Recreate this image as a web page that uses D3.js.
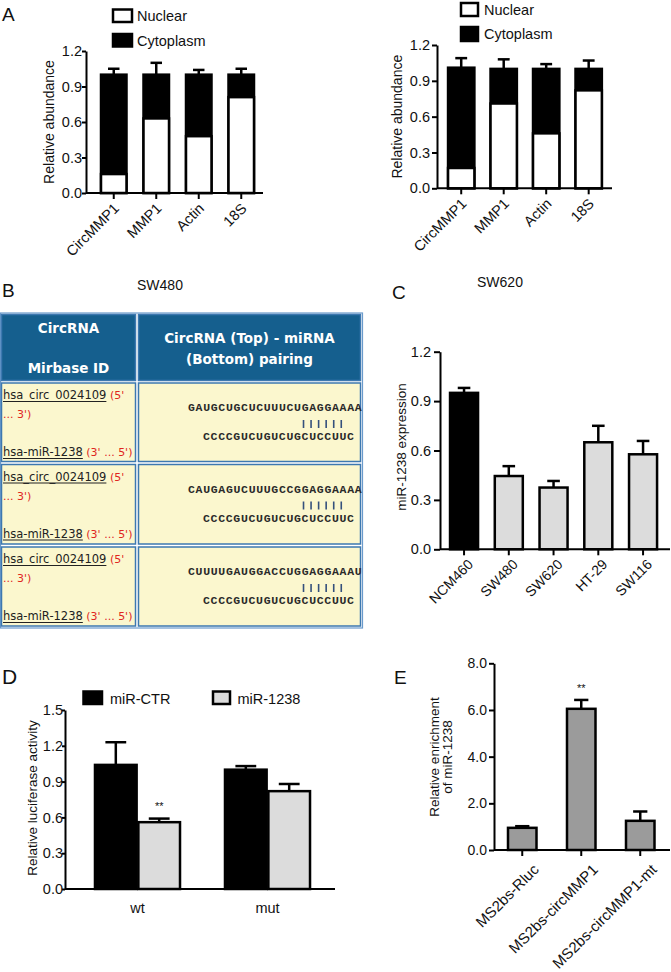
<!DOCTYPE html>
<html><head><meta charset="utf-8">
<script src="https://cdn.jsdelivr.net/npm/d3@7"></script>
<style>body{margin:0;background:#fff} svg{display:block}</style>
</head><body>
<svg id="c" width="671" height="972"></svg>
<script>
// ---------- DATA ----------
const fractionCategories = ["CircMMP1", "MMP1", "Actin", "18S"];
const fractionTicks = [0, 0.3, 0.6, 0.9, 1.2];
const sw480Nuclear = [0.16, 0.63, 0.48, 0.81];
const sw480Total   = [1.00, 1.00, 1.00, 1.00];
const sw480ErrTop  = [1.05, 1.10, 1.04, 1.05];
const sw620Nuclear = [0.17, 0.71, 0.46, 0.82];
const sw620Total   = [1.01, 1.00, 1.00, 1.00];
const sw620ErrTop  = [1.09, 1.08, 1.04, 1.07];

const cellLines = ["NCM460", "SW480", "SW620", "HT-29", "SW116"];
const exprTicks = [0, 0.3, 0.6, 0.9, 1.2];
const mirExpr       = [0.95, 0.445, 0.375, 0.65, 0.577];
const mirExprErrTop = [0.98, 0.505, 0.415, 0.75, 0.658];

const lucGroups = ["wt", "mut"];
const lucSeries = ["miR-CTR", "miR-1238"];
const lucTicks = [0, 0.3, 0.6, 0.9, 1.2, 1.5];
const lucCTR       = [1.04, 1.00];
const lucCTRErrTop = [1.23, 1.03];
const luc1238       = [0.56, 0.82];
const luc1238ErrTop = [0.59, 0.88];

const pulldownCats = ["MS2bs-Rluc", "MS2bs-circMMP1", "MS2bs-circMMP1-mt"];
const pulldownTicks = [0, 2, 4, 6, 8];
const pulldownVals   = [0.95, 6.05, 1.25];
const pulldownErrTop = [1.02, 6.43, 1.65];

const tableHeaders = [["CircRNA", "Mirbase ID"], ["CircRNA (Top) - miRNA", "(Bottom) pairing"]];
const circIds = ["hsa_circ_0024109", "hsa_circ_0024109", "hsa_circ_0024109"];
const mirIds  = ["hsa-miR-1238", "hsa-miR-1238", "hsa-miR-1238"];
const circSeqs = ["GAUGCUGCUCUUUCUGAGGAAAA", "CAUGAGUCUUUGCCGGAGGAAAA", "CUUUUGAUGGACCUGGAGGAAAU"];
const mirSeqs  = ["CCCCGUCUGUCUGCUCCUUC", "CCCCGUCUGUCUGCUCCUUC", "CCCCGUCUGUCUGCUCCUUC"];
const pairedIdx = [[15,16,17,18,19,20],[15,16,17,18,19,20],[15,16,17,18,19,20]];

// ---------- HELPERS ----------
const FONT = "'Liberation Sans', Arial, Helvetica, sans-serif";
const svg = d3.select("#c");
const f1 = d3.format(".1f");

function yAxis(y, ticks, x0, fs, ts, tp) {
  const ax = svg.append("g").attr("transform", `translate(${x0},0)`)
    .call(d3.axisLeft(y).tickValues(ticks).tickFormat(f1).tickSize(ts).tickSizeOuter(0).tickPadding(tp));
  ax.select(".domain").attr("stroke", "#000").attr("stroke-width", 2);
  ax.selectAll(".tick line").attr("stroke", "#000").attr("stroke-width", 2);
  ax.selectAll(".tick text").attr("font-size", fs).attr("font-family", FONT).attr("fill", "#111");
}
function xAxis(x, y0, xs, xe, o) {
  svg.append("line").attr("x1", xs).attr("x2", xe).attr("y1", y0).attr("y2", y0)
    .attr("stroke", "#000").attr("stroke-width", 2);
  const ax = svg.append("g").attr("transform", `translate(0,${y0})`)
    .call(d3.axisBottom(x).tickSize(o.tick ? 6 : 0).tickSizeOuter(0));
  ax.select(".domain").remove();
  ax.selectAll(".tick line").attr("stroke", "#000").attr("stroke-width", 2);
  const t = ax.selectAll(".tick text").attr("font-size", o.fs).attr("font-family", FONT).attr("fill", "#111");
  if (o.rotate) {
    t.attr("y", 0).attr("dy", "0.71em").attr("text-anchor", "end")
     .attr("transform", `translate(${o.dx},${o.dy}) rotate(-45)`);
  } else {
    t.attr("y", o.ly).attr("dy", 0);
  }
}
function errBar(cx, yTop, yErr, cap) {
  svg.append("line").attr("x1", cx).attr("x2", cx).attr("y1", yTop).attr("y2", yErr)
    .attr("stroke", "#000").attr("stroke-width", 2.5);
  svg.append("line").attr("x1", cx - cap / 2).attr("x2", cx + cap / 2).attr("y1", yErr).attr("y2", yErr)
    .attr("stroke", "#000").attr("stroke-width", 2.5);
}
function yTitle(lines, x, yc, fs, lh) {
  const t = svg.append("text").attr("transform", `translate(${x},${yc}) rotate(-90)`)
    .attr("text-anchor", "middle").attr("font-family", FONT).attr("font-size", fs).attr("fill", "#111");
  lines.forEach((l, i) => t.append("tspan").attr("x", 0).attr("dy", i === 0 ? 0 : lh).text(l));
}
function label(txt, x, y, fs, anchor) {
  svg.append("text").attr("x", x).attr("y", y).attr("font-family", FONT).attr("font-size", fs)
    .attr("fill", "#111").attr("text-anchor", anchor || "start").text(txt);
}
function legendBox(x, y, w, h, fill) {
  svg.append("rect").attr("x", x).attr("y", y).attr("width", w).attr("height", h)
    .attr("fill", fill).attr("stroke", "#000").attr("stroke-width", 2.5);
}

// ---------- PANEL A ----------
function stacked(cfg) {
  const x = d3.scaleBand().domain(fractionCategories).range(cfg.xr).padding(cfg.pad);
  const y = d3.scaleLinear().domain([0, 1.2]).range(cfg.yr);
  const bw = x.bandwidth();
  fractionCategories.forEach((c, i) => {
    errBar(x(c) + bw / 2, y(cfg.total[i]), y(cfg.err[i]), bw * 0.45);
  });
  svg.append("g").selectAll("rect.tot").data(fractionCategories).join("rect")
    .attr("x", d => x(d)).attr("width", bw)
    .attr("y", (d, i) => y(cfg.total[i])).attr("height", (d, i) => y(0) - y(cfg.total[i]))
    .attr("fill", "#000").attr("stroke", "#000").attr("stroke-width", 2.5);
  svg.append("g").selectAll("rect.nuc").data(fractionCategories).join("rect")
    .attr("x", d => x(d)).attr("width", bw)
    .attr("y", (d, i) => y(cfg.nuc[i])).attr("height", (d, i) => y(0) - y(cfg.nuc[i]))
    .attr("fill", "#fff").attr("stroke", "#000").attr("stroke-width", 2.5);
  yAxis(y, fractionTicks, cfg.ax, 14.5, cfg.ts, cfg.tp);
  xAxis(x, cfg.yr[0], cfg.ax, cfg.axEnd, {tick: true, rotate: true, fs: 14.5, dx: -1, dy: 9});
  yTitle(["Relative abundance"], cfg.titleX, (cfg.yr[0] + cfg.yr[1]) / 2, 14, 0);
}
stacked({xr: [84, 271], pad: 0.4, yr: [193, 51], ax: 86, axEnd: 263, ts: 4, tp: 0,
  nuc: sw480Nuclear, total: sw480Total, err: sw480ErrTop, titleX: 54});
stacked({xr: [431.9, 618], pad: 0.38, yr: [188.3, 45], ax: 437, axEnd: 612, ts: 5, tp: 2,
  nuc: sw620Nuclear, total: sw620Total, err: sw620ErrTop, titleX: 402});
// legends A
legendBox(113, 9.5, 19, 12.5, "#fff"); label("Nuclear", 137, 21, 14.5);
legendBox(113, 34, 19, 12.5, "#000"); label("Cytoplasm", 137, 46, 14.5);
legendBox(461, 3, 17, 13, "#fff"); label("Nuclear", 484, 15, 14.5);
legendBox(461, 27, 17, 14, "#000"); label("Cytoplasm", 484, 39, 14.5);
label("SW480", 160, 290, 14, "middle");
label("SW620", 500, 287, 14, "middle");

// panel letters
label("A", 2, 21, 19);
label("B", 2, 297, 19);
label("C", 392, 299, 19);
label("D", 2, 684, 21);
label("E", 394, 684, 19);

// ---------- PANEL B (table) ----------
(function table() {
  const TF = "'DejaVu Sans', Verdana, sans-serif";
  const border = "#3d78b0";
  const colX = [[1.5, 135.5], [138.5, 360.5]];
  const rowY = [[314.5, 380.5], [383, 461.5], [464.5, 544], [547, 626]];
  svg.append("rect").attr("x", 0.5).attr("y", 313).attr("width", 362).attr("height", 315)
    .attr("fill", "#fff").attr("stroke", "#6a9acb").attr("stroke-width", 1.2);
  rowY.forEach((r, ri) => colX.forEach((c, ci) => {
    svg.append("rect").attr("x", c[0]).attr("y", r[0]).attr("width", c[1] - c[0]).attr("height", r[1] - r[0])
      .attr("fill", ri === 0 ? "#155f8e" : "#fbf7ce").attr("stroke", border).attr("stroke-width", 1.5);
  }));
  const h1 = [[333, 373], [343, 364]];
  tableHeaders.forEach((lines, ci) => {
    const cx = (colX[ci][0] + colX[ci][1]) / 2;
    lines.forEach((l, li) => svg.append("text").attr("x", cx).attr("y", h1[ci][li])
      .attr("text-anchor", "middle").attr("font-family", TF).attr("font-weight", "bold")
      .attr("font-size", 13.5).attr("fill", "#fff").text(l));
  });
  function under(txt, x, y, extra, extraColor) {
    const t = svg.append("text").attr("x", x).attr("y", y).attr("font-family", TF)
      .attr("font-size", 11.5).attr("fill", "#222").text(txt);
    const w = t.node().getComputedTextLength();
    svg.append("line").attr("x1", x).attr("x2", x + w).attr("y1", y + 2.5).attr("y2", y + 2.5)
      .attr("stroke", "#222").attr("stroke-width", 1);
    if (extra) svg.append("text").attr("x", x + w + 3.5).attr("y", y).attr("font-family", TF)
      .attr("font-size", 11).attr("fill", extraColor).text(extra);
  }
  const cw = 7.55;
  circIds.forEach((id, i) => {
    const top = rowY[i + 1][0];
    under(id, 3, top + 16, "(5'", "#e0261f");
    svg.append("text").attr("x", 3).attr("y", top + 35).attr("font-family", TF)
      .attr("font-size", 11).attr("fill", "#e0261f").text("... 3')");
    under(mirIds[i], 3, top + 73, "(3' ... 5')", "#e0261f");
    const sx = 188, bx = 203;
    svg.append("text").attr("x", sx).attr("y", top + 28).attr("font-family", "'Liberation Mono', monospace")
      .attr("font-weight", "bold").attr("font-size", 11.5).attr("fill", "#2a2a2a")
      .attr("textLength", circSeqs[i].length * cw).attr("lengthAdjust", "spacing").text(circSeqs[i]);
    svg.append("text").attr("x", bx).attr("y", top + 57).attr("font-family", "'Liberation Mono', monospace")
      .attr("font-weight", "bold").attr("font-size", 11.5).attr("fill", "#2a2a2a")
      .attr("textLength", mirSeqs[i].length * cw).attr("lengthAdjust", "spacing").text(mirSeqs[i]);
    svg.append("g").selectAll("line").data(pairedIdx[i]).join("line")
      .attr("x1", d => sx + (d + 0.3) * cw).attr("x2", d => sx + (d + 0.3) * cw)
      .attr("y1", top + 37).attr("y2", top + 45)
      .attr("stroke", "#34507c").attr("stroke-width", 1.6);
  });
})();

// ---------- PANEL C ----------
(function () {
  const x = d3.scaleBand().domain(cellLines).range([433.3, 673.8]).padding(0.374);
  const y = d3.scaleLinear().domain([0, 1.2]).range([549.3, 351.7]);
  const bw = x.bandwidth();
  cellLines.forEach((c, i) => errBar(x(c) + bw / 2, y(mirExpr[i]), y(mirExprErrTop[i]), bw * 0.45));
  svg.append("g").selectAll("rect").data(cellLines).join("rect")
    .attr("x", d => x(d)).attr("width", bw)
    .attr("y", (d, i) => y(mirExpr[i])).attr("height", (d, i) => y(0) - y(mirExpr[i]))
    .attr("fill", (d, i) => i === 0 ? "#000" : "#dcdcdc").attr("stroke", "#000").attr("stroke-width", 2.5);
  yAxis(y, exprTicks, 440, 14.5, 6, 3);
  xAxis(x, 549.3, 440, 670, {tick: true, rotate: true, fs: 14, dx: 3, dy: 9});
  yTitle(["miR-1238 expression"], 406, 447, 13.5, 0);
})();

// ---------- PANEL D ----------
(function () {
  const x0 = d3.scaleBand().domain(lucGroups).range([50, 355]).padding(0.346);
  const x1 = d3.scaleBand().domain(lucSeries).range([0, x0.bandwidth()]).paddingInner(0.04);
  const y = d3.scaleLinear().domain([0, 1.5]).range([889, 710]);
  const vals = [lucCTR, luc1238], errs = [lucCTRErrTop, luc1238ErrTop], fills = ["#000", "#dcdcdc"];
  const bw = x1.bandwidth();
  lucSeries.forEach((s, si) => lucGroups.forEach((g, gi) => {
    errBar(x0(g) + x1(s) + bw / 2, y(vals[si][gi]), y(errs[si][gi]), bw * 0.5);
  }));
  lucSeries.forEach((s, si) => {
    svg.append("g").selectAll("rect").data(lucGroups).join("rect")
      .attr("x", d => x0(d) + x1(s)).attr("width", bw)
      .attr("y", (d, gi) => y(vals[si][gi])).attr("height", (d, gi) => y(0) - y(vals[si][gi]))
      .attr("fill", fills[si]).attr("stroke", "#000").attr("stroke-width", 2.5);
  });
  yAxis(y, lucTicks, 65, 14.5, 3, -1);
  xAxis(x0, 889, 65, 335, {tick: false, rotate: false, fs: 14.5, ly: 24});
  yTitle(["Relative luciferase activity"], 37, 798, 13.5, 0);
  label("**", x0("wt") + x1("miR-1238") + bw / 2, 810, 11, "middle");
  legendBox(83.5, 691.5, 18.5, 12.5, "#000"); label("miR-CTR", 110, 703.5, 14.5);
  legendBox(213, 691.5, 17, 12.5, "#dcdcdc"); label("miR-1238", 237.5, 703.5, 14.5);
})();

// ---------- PANEL E ----------
(function () {
  const x = d3.scaleBand().domain(pulldownCats).range([477.5, 685]).padding(0.517);
  const y = d3.scaleLinear().domain([0, 8]).range([850, 663.3]);
  const bw = x.bandwidth();
  pulldownCats.forEach((c, i) => errBar(x(c) + bw / 2, y(pulldownVals[i]), y(pulldownErrTop[i]), bw * 0.5));
  svg.append("g").selectAll("rect").data(pulldownCats).join("rect")
    .attr("x", d => x(d)).attr("width", bw)
    .attr("y", (d, i) => y(pulldownVals[i])).attr("height", (d, i) => y(0) - y(pulldownVals[i]))
    .attr("fill", "#9b9b9b").attr("stroke", "#000").attr("stroke-width", 2.5);
  yAxis(y, pulldownTicks, 494, 14, 5, 2);
  xAxis(x, 850, 494, 670, {tick: true, rotate: true, fs: 15, dx: 10, dy: 13});
  yTitle(["Relative enrichment", "of miR-1238"], 439, 757, 13.5, 13);
  label("**", x(pulldownCats[1]) + bw / 2, 692, 11, "middle");
})();
</script>
</body></html>
